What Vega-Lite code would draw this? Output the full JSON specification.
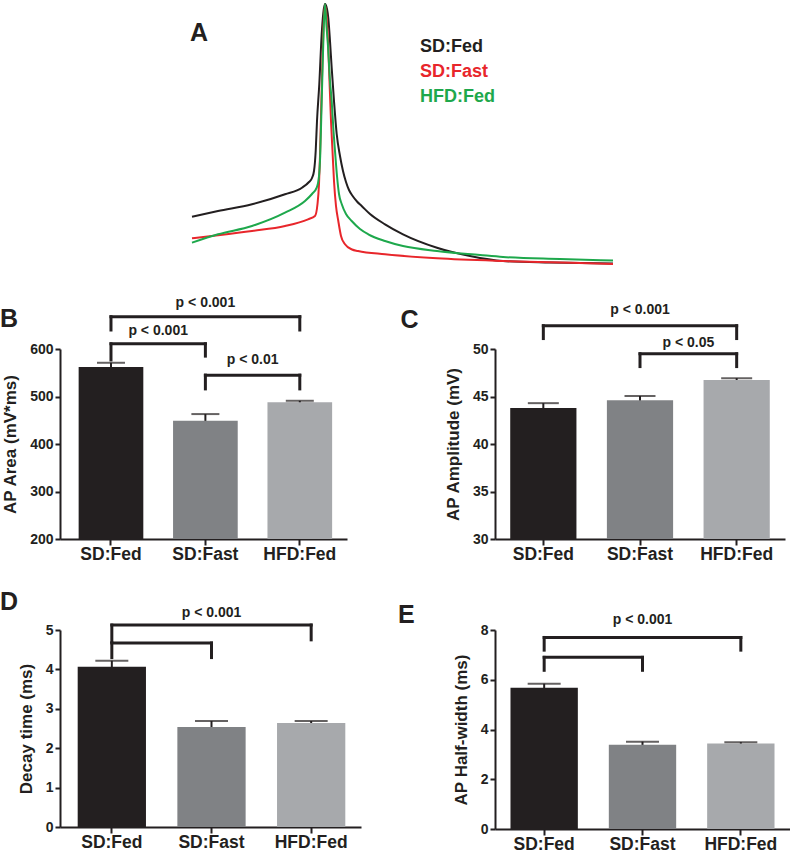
{
  "$schema": "https://vega.github.io/schema/vega-lite/v6.json",
  "padding": {"left": 0, "top": 2, "right": 0, "bottom": 0},
  "background": "white",
  "config": {
    "view": {"stroke": null},
    "font": "Liberation Sans",
    "axis": {"domainColor": "#231f20", "domainWidth": 2, "tickColor": "#231f20", "tickWidth": 2, "tickSize": 5, "labelFont": "Liberation Sans", "labelFontWeight": "bold", "labelColor": "#231f20", "titleFont": "Liberation Sans", "titleColor": "#231f20", "titleFontWeight": "bold", "titleFontSize": 17, "grid": false},
    "axisX": {"labelFontSize": 17.5, "labelAngle": 0, "labelPadding": 0, "tickSize": 6},
    "axisY": {"labelFontSize": 14, "labelPadding": 2, "titlePadding": 10}
  },
  "datasets": {
    "traces": [
      {"condition": "SD:Fed", "t": 0, "v": 49.3}, {"condition": "SD:Fed", "t": 26, "v": 55}, {"condition": "SD:Fed", "t": 60, "v": 61.7}, {"condition": "SD:Fed", "t": 93, "v": 71.7}, {"condition": "SD:Fed", "t": 110, "v": 78.3}, {"condition": "SD:Fed", "t": 117, "v": 84}, {"condition": "SD:Fed", "t": 120, "v": 88}, {"condition": "SD:Fed", "t": 122, "v": 95}, {"condition": "SD:Fed", "t": 123.7, "v": 115}, {"condition": "SD:Fed", "t": 125, "v": 145}, {"condition": "SD:Fed", "t": 127.3, "v": 182}, {"condition": "SD:Fed", "t": 129.7, "v": 232}, {"condition": "SD:Fed", "t": 131.3, "v": 253}, {"condition": "SD:Fed", "t": 133, "v": 262}, {"condition": "SD:Fed", "t": 135, "v": 257}, {"condition": "SD:Fed", "t": 136.3, "v": 248}, {"condition": "SD:Fed", "t": 138, "v": 225}, {"condition": "SD:Fed", "t": 139.7, "v": 198}, {"condition": "SD:Fed", "t": 142, "v": 165}, {"condition": "SD:Fed", "t": 144.7, "v": 132}, {"condition": "SD:Fed", "t": 148, "v": 110}, {"condition": "SD:Fed", "t": 151, "v": 95}, {"condition": "SD:Fed", "t": 154, "v": 84}, {"condition": "SD:Fed", "t": 157, "v": 76}, {"condition": "SD:Fed", "t": 161, "v": 69.5}, {"condition": "SD:Fed", "t": 165, "v": 64.5}, {"condition": "SD:Fed", "t": 169.7, "v": 60}, {"condition": "SD:Fed", "t": 178, "v": 52}, {"condition": "SD:Fed", "t": 193, "v": 41.7}, {"condition": "SD:Fed", "t": 211, "v": 31.7}, {"condition": "SD:Fed", "t": 245, "v": 18.3}, {"condition": "SD:Fed", "t": 278, "v": 10}, {"condition": "SD:Fed", "t": 311, "v": 5}, {"condition": "SD:Fed", "t": 358, "v": 3.5}, {"condition": "SD:Fed", "t": 421, "v": 2.5},
      {"condition": "SD:Fast", "t": 0, "v": 27.7}, {"condition": "SD:Fast", "t": 26, "v": 30.7}, {"condition": "SD:Fast", "t": 60, "v": 35}, {"condition": "SD:Fast", "t": 93, "v": 40}, {"condition": "SD:Fast", "t": 116, "v": 46.7}, {"condition": "SD:Fast", "t": 123, "v": 50}, {"condition": "SD:Fast", "t": 125.5, "v": 62}, {"condition": "SD:Fast", "t": 127, "v": 82}, {"condition": "SD:Fast", "t": 128, "v": 110}, {"condition": "SD:Fast", "t": 129, "v": 150}, {"condition": "SD:Fast", "t": 130.3, "v": 200}, {"condition": "SD:Fast", "t": 131.5, "v": 240}, {"condition": "SD:Fast", "t": 133, "v": 261}, {"condition": "SD:Fast", "t": 134.5, "v": 250}, {"condition": "SD:Fast", "t": 136, "v": 225}, {"condition": "SD:Fast", "t": 137.5, "v": 185}, {"condition": "SD:Fast", "t": 139, "v": 145}, {"condition": "SD:Fast", "t": 140.5, "v": 115}, {"condition": "SD:Fast", "t": 142, "v": 85}, {"condition": "SD:Fast", "t": 144, "v": 60}, {"condition": "SD:Fast", "t": 146.3, "v": 45}, {"condition": "SD:Fast", "t": 149, "v": 30}, {"condition": "SD:Fast", "t": 153, "v": 21.7}, {"condition": "SD:Fast", "t": 160, "v": 16.5}, {"condition": "SD:Fast", "t": 166, "v": 15}, {"condition": "SD:Fast", "t": 193, "v": 11.7}, {"condition": "SD:Fast", "t": 245, "v": 7.7}, {"condition": "SD:Fast", "t": 311, "v": 5}, {"condition": "SD:Fast", "t": 368, "v": 3.5}, {"condition": "SD:Fast", "t": 421, "v": 2},
      {"condition": "HFD:Fed", "t": 0, "v": 23.3}, {"condition": "HFD:Fed", "t": 26, "v": 31.7}, {"condition": "HFD:Fed", "t": 60, "v": 40}, {"condition": "HFD:Fed", "t": 93, "v": 53.3}, {"condition": "HFD:Fed", "t": 113, "v": 65}, {"condition": "HFD:Fed", "t": 120, "v": 72}, {"condition": "HFD:Fed", "t": 124.7, "v": 78.3}, {"condition": "HFD:Fed", "t": 127, "v": 90}, {"condition": "HFD:Fed", "t": 128.2, "v": 110}, {"condition": "HFD:Fed", "t": 129.3, "v": 150}, {"condition": "HFD:Fed", "t": 130.5, "v": 195}, {"condition": "HFD:Fed", "t": 131.7, "v": 237}, {"condition": "HFD:Fed", "t": 133, "v": 262}, {"condition": "HFD:Fed", "t": 134.5, "v": 240}, {"condition": "HFD:Fed", "t": 136, "v": 220}, {"condition": "HFD:Fed", "t": 138, "v": 185}, {"condition": "HFD:Fed", "t": 139.7, "v": 165}, {"condition": "HFD:Fed", "t": 141.5, "v": 135}, {"condition": "HFD:Fed", "t": 143, "v": 115}, {"condition": "HFD:Fed", "t": 145, "v": 90}, {"condition": "HFD:Fed", "t": 147, "v": 72}, {"condition": "HFD:Fed", "t": 149.7, "v": 62}, {"condition": "HFD:Fed", "t": 154, "v": 52}, {"condition": "HFD:Fed", "t": 159.7, "v": 45}, {"condition": "HFD:Fed", "t": 168, "v": 37}, {"condition": "HFD:Fed", "t": 176.3, "v": 31.7}, {"condition": "HFD:Fed", "t": 193, "v": 25}, {"condition": "HFD:Fed", "t": 211, "v": 20}, {"condition": "HFD:Fed", "t": 245, "v": 15}, {"condition": "HFD:Fed", "t": 288, "v": 11}, {"condition": "HFD:Fed", "t": 311, "v": 9}, {"condition": "HFD:Fed", "t": 368, "v": 7}, {"condition": "HFD:Fed", "t": 421, "v": 5.5}
    ],
    "area": [{"group": "SD:Fed", "mean": 562, "sem": 9}, {"group": "SD:Fast", "mean": 449, "sem": 14}, {"group": "HFD:Fed", "mean": 488, "sem": 3}],
    "amplitude": [{"group": "SD:Fed", "mean": 43.8, "sem": 0.5}, {"group": "SD:Fast", "mean": 44.6, "sem": 0.45}, {"group": "HFD:Fed", "mean": 46.75, "sem": 0.18}],
    "decay": [{"group": "SD:Fed", "mean": 4.07, "sem": 0.15}, {"group": "SD:Fast", "mean": 2.54, "sem": 0.15}, {"group": "HFD:Fed", "mean": 2.64, "sem": 0.05}],
    "halfwidth": [{"group": "SD:Fed", "mean": 5.68, "sem": 0.16}, {"group": "SD:Fast", "mean": 3.39, "sem": 0.12}, {"group": "HFD:Fed", "mean": 3.44, "sem": 0.05}],
    "area_sig": [
      {"from": "SD:Fed", "to": "HFD:Fed", "level": 668, "fromEnd": 640, "toEnd": 640, "label": "p < 0.001", "labelY": 697},
      {"from": "SD:Fed", "to": "SD:Fast", "level": 611, "fromEnd": 577, "toEnd": 585, "label": "p < 0.001", "labelY": 637},
      {"from": "SD:Fast", "to": "HFD:Fed", "level": 545, "fromEnd": 516, "toEnd": 516, "label": "p < 0.01", "labelY": 577}
    ],
    "amplitude_sig": [
      {"from": "SD:Fed", "to": "HFD:Fed", "level": 52.45, "fromEnd": 51.1, "toEnd": 51.1, "label": "p < 0.001", "labelY": 54.15},
      {"from": "SD:Fast", "to": "HFD:Fed", "level": 49.5, "fromEnd": 48.15, "toEnd": 48.15, "label": "p < 0.05", "labelY": 50.67}
    ],
    "decay_sig": [
      {"from": "SD:Fed", "to": "HFD:Fed", "level": 5.125, "fromEnd": 4.7, "toEnd": 4.75, "label": "p < 0.001", "labelY": 5.42},
      {"from": "SD:Fed", "to": "SD:Fast", "level": 4.67, "fromEnd": 4.3, "toEnd": 4.3, "label": null, "labelY": null}
    ],
    "halfwidth_sig": [
      {"from": "SD:Fed", "to": "HFD:Fed", "level": 7.7, "fromEnd": 7.19, "toEnd": 7.19, "label": "p < 0.001", "labelY": 8.4},
      {"from": "SD:Fed", "to": "SD:Fast", "level": 6.9, "fromEnd": 6.38, "toEnd": 6.38, "label": null, "labelY": null}
    ]
  },
  "columns": 2,
  "spacing": {"row": 91, "column": 134},
  "bounds": "flush",
  "align": "each",
  "concat": [
    {
      "width": 287, "height": 255,
      "title": {"text": "A", "anchor": "start", "frame": "group", "dx": 130, "offset": -62.7, "baseline": "alphabetic", "fontSize": 25, "fontWeight": "bold", "color": "#231f20", "font": "Liberation Sans"},
      "data": {"name": "traces"},
      "layer": [
        {"transform": [{"filter": "datum.condition === 'SD:Fed'"}], "mark": {"type": "line", "strokeWidth": 2, "strokeJoin": "round", "interpolate": "monotone"},
         "encoding": {"x": {"field": "t", "type": "quantitative", "scale": {"domain": [-132, 155], "nice": false, "zero": false}, "axis": null},
                      "y": {"field": "v", "type": "quantitative", "scale": {"domain": [8, 263], "nice": false, "zero": false}, "axis": null},
                      "stroke": {"field": "condition", "type": "nominal", "scale": {"domain": ["SD:Fed", "SD:Fast", "HFD:Fed"], "range": ["#231f20", "#e8262b", "#1ea84c"]},
                                 "legend": {"orient": "none", "legendX": 342, "legendY": 35, "title": null, "padding": 0, "symbolSize": 0, "symbolStrokeWidth": 0, "symbolOpacity": 0, "labelOffset": 0, "labelFontSize": 18, "labelFontWeight": "bold", "labelFont": "Liberation Sans", "labelBaseline": "middle", "rowPadding": 7,
                                            "encode": {"labels": {"update": {"fill": {"signal": "datum.value === 'SD:Fed' ? '#231f20' : datum.value === 'SD:Fast' ? '#e8262b' : '#1ea84c'"}}}}}}}},
        {"transform": [{"filter": "datum.condition === 'SD:Fast'"}], "mark": {"type": "line", "strokeWidth": 2, "strokeJoin": "round", "interpolate": "monotone"},
         "encoding": {"x": {"field": "t", "type": "quantitative", "scale": {"domain": [-132, 155], "nice": false, "zero": false}, "axis": null},
                      "y": {"field": "v", "type": "quantitative", "scale": {"domain": [8, 263], "nice": false, "zero": false}, "axis": null},
                      "stroke": {"field": "condition", "type": "nominal", "scale": {"domain": ["SD:Fed", "SD:Fast", "HFD:Fed"], "range": ["#231f20", "#e8262b", "#1ea84c"]}}}},
        {"transform": [{"filter": "datum.condition === 'HFD:Fed'"}], "mark": {"type": "line", "strokeWidth": 2, "strokeJoin": "round", "interpolate": "monotone"},
         "encoding": {"x": {"field": "t", "type": "quantitative", "scale": {"domain": [-132, 155], "nice": false, "zero": false}, "axis": null},
                      "y": {"field": "v", "type": "quantitative", "scale": {"domain": [8, 263], "nice": false, "zero": false}, "axis": null},
                      "stroke": {"field": "condition", "type": "nominal", "scale": {"domain": ["SD:Fed", "SD:Fast", "HFD:Fed"], "range": ["#231f20", "#e8262b", "#1ea84c"]}}}}
      ]
    },
    {
      "width": 1, "height": 1,
      "data": {"values": []},
      "mark": "point"
    },
    {
      "width": 287, "height": 190,
      "title": {"text": "B", "anchor": "start", "frame": "group", "dx": -60, "offset": -56.4, "baseline": "alphabetic", "fontSize": 25, "fontWeight": "bold", "color": "#231f20", "font": "Liberation Sans"},
      "layer": [
        {"data": {"name": "area"}, "mark": {"type": "errorbar", "ticks": {"size": 28}, "thickness": 2, "color": "#231f20"},
         "encoding": {"x": {"field": "group", "type": "nominal", "scale": {"domain": ["SD:Fed", "SD:Fast", "HFD:Fed"], "paddingInner": 0, "paddingOuter": 0.02, "align": 1}, "axis": {"title": null}},
                      "y": {"field": "mean", "type": "quantitative", "scale": {"domain": [200, 600], "nice": false, "zero": false}, "axis": {"title": "AP Area (mV*ms)", "values": [200, 300, 400, 500, 600]}},
                      "yError": {"field": "sem"}}},
        {"data": {"name": "area"}, "mark": {"type": "bar", "width": {"band": 0.685}, "clip": true},
         "encoding": {"x": {"field": "group", "type": "nominal", "scale": {"domain": ["SD:Fed", "SD:Fast", "HFD:Fed"], "paddingInner": 0, "paddingOuter": 0.02, "align": 1}, "axis": {"title": null}},
                      "y": {"field": "mean", "type": "quantitative", "scale": {"domain": [200, 600], "nice": false, "zero": false}, "axis": {"title": "AP Area (mV*ms)", "values": [200, 300, 400, 500, 600]}},
                      "fill": {"field": "group", "type": "nominal", "scale": {"domain": ["SD:Fed", "SD:Fast", "HFD:Fed"], "range": ["#231f20", "#808285", "#a7a9ac"]}, "legend": null}}},
        {"data": {"name": "area_sig"}, "mark": {"type": "rule", "strokeWidth": 3, "strokeCap": "square", "color": "#231f20"},
         "encoding": {"x": {"field": "from", "type": "nominal", "bandPosition": 0.5, "scale": {"domain": ["SD:Fed", "SD:Fast", "HFD:Fed"], "paddingInner": 0, "paddingOuter": 0.02, "align": 1}, "axis": {"title": null}},
                      "x2": {"field": "to"},
                      "y": {"field": "level", "type": "quantitative", "scale": {"domain": [200, 600], "nice": false, "zero": false}, "axis": {"title": "AP Area (mV*ms)", "values": [200, 300, 400, 500, 600]}}}},
        {"data": {"name": "area_sig"}, "mark": {"type": "rule", "strokeWidth": 3, "strokeCap": "square", "color": "#231f20"},
         "encoding": {"x": {"field": "from", "type": "nominal", "scale": {"domain": ["SD:Fed", "SD:Fast", "HFD:Fed"], "paddingInner": 0, "paddingOuter": 0.02, "align": 1}, "axis": {"title": null}},
                      "y": {"field": "level", "type": "quantitative", "scale": {"domain": [200, 600], "nice": false, "zero": false}, "axis": {"title": "AP Area (mV*ms)", "values": [200, 300, 400, 500, 600]}},
                      "y2": {"field": "fromEnd"}}},
        {"data": {"name": "area_sig"}, "mark": {"type": "rule", "strokeWidth": 3, "strokeCap": "square", "color": "#231f20"},
         "encoding": {"x": {"field": "to", "type": "nominal", "scale": {"domain": ["SD:Fed", "SD:Fast", "HFD:Fed"], "paddingInner": 0, "paddingOuter": 0.02, "align": 1}, "axis": {"title": null}},
                      "y": {"field": "level", "type": "quantitative", "scale": {"domain": [200, 600], "nice": false, "zero": false}, "axis": {"title": "AP Area (mV*ms)", "values": [200, 300, 400, 500, 600]}},
                      "y2": {"field": "toEnd"}}},
        {"data": {"name": "area_sig"}, "transform": [{"filter": "datum.label && datum.from === 'SD:Fed' && datum.to === 'HFD:Fed'"}],
         "mark": {"type": "text", "fontSize": 14, "fontWeight": "bold", "baseline": "middle", "color": "#231f20", "font": "Liberation Sans"},
         "encoding": {"x": {"field": "from", "type": "nominal", "bandPosition": 1.5, "scale": {"domain": ["SD:Fed", "SD:Fast", "HFD:Fed"], "paddingInner": 0, "paddingOuter": 0.02, "align": 1}, "axis": {"title": null}},
                      "y": {"field": "labelY", "type": "quantitative", "scale": {"domain": [200, 600], "nice": false, "zero": false}, "axis": {"title": "AP Area (mV*ms)", "values": [200, 300, 400, 500, 600]}},
                      "text": {"field": "label"}}},
        {"data": {"name": "area_sig"}, "transform": [{"filter": "datum.label && !(datum.from === 'SD:Fed' && datum.to === 'HFD:Fed')"}],
         "mark": {"type": "text", "fontSize": 14, "fontWeight": "bold", "baseline": "middle", "color": "#231f20", "font": "Liberation Sans"},
         "encoding": {"x": {"field": "from", "type": "nominal", "bandPosition": 1, "scale": {"domain": ["SD:Fed", "SD:Fast", "HFD:Fed"], "paddingInner": 0, "paddingOuter": 0.02, "align": 1}, "axis": {"title": null}},
                      "y": {"field": "labelY", "type": "quantitative", "scale": {"domain": [200, 600], "nice": false, "zero": false}, "axis": {"title": "AP Area (mV*ms)", "values": [200, 300, 400, 500, 600]}},
                      "text": {"field": "label"}}}
      ]
    },
    {
      "width": 290, "height": 190,
      "title": {"text": "C", "anchor": "start", "frame": "group", "dx": -94.5, "offset": -50.4, "baseline": "alphabetic", "fontSize": 25, "fontWeight": "bold", "color": "#231f20", "font": "Liberation Sans"},
      "layer": [
        {"data": {"name": "amplitude"}, "mark": {"type": "errorbar", "ticks": {"size": 31}, "thickness": 2, "color": "#231f20"},
         "encoding": {"x": {"field": "group", "type": "nominal", "scale": {"domain": ["SD:Fed", "SD:Fast", "HFD:Fed"], "paddingInner": 0, "paddingOuter": 0}, "axis": {"title": null}},
                      "y": {"field": "mean", "type": "quantitative", "scale": {"domain": [30, 50], "nice": false, "zero": false}, "axis": {"title": "AP Amplitude (mV)", "values": [30, 35, 40, 45, 50]}},
                      "yError": {"field": "sem"}}},
        {"data": {"name": "amplitude"}, "mark": {"type": "bar", "width": {"band": 0.685}, "clip": true},
         "encoding": {"x": {"field": "group", "type": "nominal", "scale": {"domain": ["SD:Fed", "SD:Fast", "HFD:Fed"], "paddingInner": 0, "paddingOuter": 0}, "axis": {"title": null}},
                      "y": {"field": "mean", "type": "quantitative", "scale": {"domain": [30, 50], "nice": false, "zero": false}, "axis": {"title": "AP Amplitude (mV)", "values": [30, 35, 40, 45, 50]}},
                      "fill": {"field": "group", "type": "nominal", "scale": {"domain": ["SD:Fed", "SD:Fast", "HFD:Fed"], "range": ["#231f20", "#808285", "#a7a9ac"]}, "legend": null}}},
        {"data": {"name": "amplitude_sig"}, "mark": {"type": "rule", "strokeWidth": 3, "strokeCap": "square", "color": "#231f20"},
         "encoding": {"x": {"field": "from", "type": "nominal", "bandPosition": 0.5, "scale": {"domain": ["SD:Fed", "SD:Fast", "HFD:Fed"], "paddingInner": 0, "paddingOuter": 0}, "axis": {"title": null}},
                      "x2": {"field": "to"},
                      "y": {"field": "level", "type": "quantitative", "scale": {"domain": [30, 50], "nice": false, "zero": false}, "axis": {"title": "AP Amplitude (mV)", "values": [30, 35, 40, 45, 50]}}}},
        {"data": {"name": "amplitude_sig"}, "mark": {"type": "rule", "strokeWidth": 3, "strokeCap": "square", "color": "#231f20"},
         "encoding": {"x": {"field": "from", "type": "nominal", "scale": {"domain": ["SD:Fed", "SD:Fast", "HFD:Fed"], "paddingInner": 0, "paddingOuter": 0}, "axis": {"title": null}},
                      "y": {"field": "level", "type": "quantitative", "scale": {"domain": [30, 50], "nice": false, "zero": false}, "axis": {"title": "AP Amplitude (mV)", "values": [30, 35, 40, 45, 50]}},
                      "y2": {"field": "fromEnd"}}},
        {"data": {"name": "amplitude_sig"}, "mark": {"type": "rule", "strokeWidth": 3, "strokeCap": "square", "color": "#231f20"},
         "encoding": {"x": {"field": "to", "type": "nominal", "scale": {"domain": ["SD:Fed", "SD:Fast", "HFD:Fed"], "paddingInner": 0, "paddingOuter": 0}, "axis": {"title": null}},
                      "y": {"field": "level", "type": "quantitative", "scale": {"domain": [30, 50], "nice": false, "zero": false}, "axis": {"title": "AP Amplitude (mV)", "values": [30, 35, 40, 45, 50]}},
                      "y2": {"field": "toEnd"}}},
        {"data": {"name": "amplitude_sig"}, "transform": [{"filter": "datum.label && datum.from === 'SD:Fed' && datum.to === 'HFD:Fed'"}],
         "mark": {"type": "text", "fontSize": 14, "fontWeight": "bold", "baseline": "middle", "color": "#231f20", "font": "Liberation Sans"},
         "encoding": {"x": {"field": "from", "type": "nominal", "bandPosition": 1.5, "scale": {"domain": ["SD:Fed", "SD:Fast", "HFD:Fed"], "paddingInner": 0, "paddingOuter": 0}, "axis": {"title": null}},
                      "y": {"field": "labelY", "type": "quantitative", "scale": {"domain": [30, 50], "nice": false, "zero": false}, "axis": {"title": "AP Amplitude (mV)", "values": [30, 35, 40, 45, 50]}},
                      "text": {"field": "label"}}},
        {"data": {"name": "amplitude_sig"}, "transform": [{"filter": "datum.label && !(datum.from === 'SD:Fed' && datum.to === 'HFD:Fed')"}],
         "mark": {"type": "text", "fontSize": 14, "fontWeight": "bold", "baseline": "middle", "color": "#231f20", "font": "Liberation Sans"},
         "encoding": {"x": {"field": "from", "type": "nominal", "bandPosition": 1, "scale": {"domain": ["SD:Fed", "SD:Fast", "HFD:Fed"], "paddingInner": 0, "paddingOuter": 0}, "axis": {"title": null}},
                      "y": {"field": "labelY", "type": "quantitative", "scale": {"domain": [30, 50], "nice": false, "zero": false}, "axis": {"title": "AP Amplitude (mV)", "values": [30, 35, 40, 45, 50]}},
                      "text": {"field": "label"}}}
      ]
    },
    {
      "width": 301, "height": 197,
      "title": {"text": "D", "anchor": "start", "frame": "group", "dx": -60, "offset": -28.2, "baseline": "alphabetic", "fontSize": 25, "fontWeight": "bold", "color": "#231f20", "font": "Liberation Sans"},
      "layer": [
        {"data": {"name": "decay"}, "mark": {"type": "errorbar", "ticks": {"size": 33}, "thickness": 2, "color": "#231f20"},
         "encoding": {"x": {"field": "group", "type": "nominal", "scale": {"domain": ["SD:Fed", "SD:Fast", "HFD:Fed"], "paddingInner": 0, "paddingOuter": 0.01, "align": 1}, "axis": {"title": null}},
                      "y": {"field": "mean", "type": "quantitative", "scale": {"domain": [0, 5], "nice": false}, "axis": {"title": "Decay time (ms)", "values": [0, 1, 2, 3, 4, 5]}},
                      "yError": {"field": "sem"}}},
        {"data": {"name": "decay"}, "mark": {"type": "bar", "width": {"band": 0.685}, "clip": true},
         "encoding": {"x": {"field": "group", "type": "nominal", "scale": {"domain": ["SD:Fed", "SD:Fast", "HFD:Fed"], "paddingInner": 0, "paddingOuter": 0.01, "align": 1}, "axis": {"title": null}},
                      "y": {"field": "mean", "type": "quantitative", "scale": {"domain": [0, 5], "nice": false}, "axis": {"title": "Decay time (ms)", "values": [0, 1, 2, 3, 4, 5]}},
                      "fill": {"field": "group", "type": "nominal", "scale": {"domain": ["SD:Fed", "SD:Fast", "HFD:Fed"], "range": ["#231f20", "#808285", "#a7a9ac"]}, "legend": null}}},
        {"data": {"name": "decay_sig"}, "mark": {"type": "rule", "strokeWidth": 3, "strokeCap": "square", "color": "#231f20"},
         "encoding": {"x": {"field": "from", "type": "nominal", "bandPosition": 0.5, "scale": {"domain": ["SD:Fed", "SD:Fast", "HFD:Fed"], "paddingInner": 0, "paddingOuter": 0.01, "align": 1}, "axis": {"title": null}},
                      "x2": {"field": "to"},
                      "y": {"field": "level", "type": "quantitative", "scale": {"domain": [0, 5], "nice": false}, "axis": {"title": "Decay time (ms)", "values": [0, 1, 2, 3, 4, 5]}}}},
        {"data": {"name": "decay_sig"}, "mark": {"type": "rule", "strokeWidth": 3, "strokeCap": "square", "color": "#231f20"},
         "encoding": {"x": {"field": "from", "type": "nominal", "scale": {"domain": ["SD:Fed", "SD:Fast", "HFD:Fed"], "paddingInner": 0, "paddingOuter": 0.01, "align": 1}, "axis": {"title": null}},
                      "y": {"field": "level", "type": "quantitative", "scale": {"domain": [0, 5], "nice": false}, "axis": {"title": "Decay time (ms)", "values": [0, 1, 2, 3, 4, 5]}},
                      "y2": {"field": "fromEnd"}}},
        {"data": {"name": "decay_sig"}, "mark": {"type": "rule", "strokeWidth": 3, "strokeCap": "square", "color": "#231f20"},
         "encoding": {"x": {"field": "to", "type": "nominal", "scale": {"domain": ["SD:Fed", "SD:Fast", "HFD:Fed"], "paddingInner": 0, "paddingOuter": 0.01, "align": 1}, "axis": {"title": null}},
                      "y": {"field": "level", "type": "quantitative", "scale": {"domain": [0, 5], "nice": false}, "axis": {"title": "Decay time (ms)", "values": [0, 1, 2, 3, 4, 5]}},
                      "y2": {"field": "toEnd"}}},
        {"data": {"name": "decay_sig"}, "transform": [{"filter": "datum.label && datum.from === 'SD:Fed' && datum.to === 'HFD:Fed'"}],
         "mark": {"type": "text", "fontSize": 14, "fontWeight": "bold", "baseline": "middle", "color": "#231f20", "font": "Liberation Sans"},
         "encoding": {"x": {"field": "from", "type": "nominal", "bandPosition": 1.5, "scale": {"domain": ["SD:Fed", "SD:Fast", "HFD:Fed"], "paddingInner": 0, "paddingOuter": 0.01, "align": 1}, "axis": {"title": null}},
                      "y": {"field": "labelY", "type": "quantitative", "scale": {"domain": [0, 5], "nice": false}, "axis": {"title": "Decay time (ms)", "values": [0, 1, 2, 3, 4, 5]}},
                      "text": {"field": "label"}}}
      ]
    },
    {
      "width": 295, "height": 199,
      "title": {"text": "E", "anchor": "start", "frame": "group", "dx": -97, "offset": -34.7, "baseline": "alphabetic", "fontSize": 25, "fontWeight": "bold", "color": "#231f20", "font": "Liberation Sans"},
      "layer": [
        {"data": {"name": "halfwidth"}, "mark": {"type": "errorbar", "ticks": {"size": 33}, "thickness": 2, "color": "#231f20"},
         "encoding": {"x": {"field": "group", "type": "nominal", "scale": {"domain": ["SD:Fed", "SD:Fast", "HFD:Fed"], "paddingInner": 0, "paddingOuter": 0}, "axis": {"title": null}},
                      "y": {"field": "mean", "type": "quantitative", "scale": {"domain": [0, 8], "nice": false}, "axis": {"title": "AP Half-width (ms)", "values": [0, 2, 4, 6, 8]}},
                      "yError": {"field": "sem"}}},
        {"data": {"name": "halfwidth"}, "mark": {"type": "bar", "width": {"band": 0.685}, "clip": true},
         "encoding": {"x": {"field": "group", "type": "nominal", "scale": {"domain": ["SD:Fed", "SD:Fast", "HFD:Fed"], "paddingInner": 0, "paddingOuter": 0}, "axis": {"title": null}},
                      "y": {"field": "mean", "type": "quantitative", "scale": {"domain": [0, 8], "nice": false}, "axis": {"title": "AP Half-width (ms)", "values": [0, 2, 4, 6, 8]}},
                      "fill": {"field": "group", "type": "nominal", "scale": {"domain": ["SD:Fed", "SD:Fast", "HFD:Fed"], "range": ["#231f20", "#808285", "#a7a9ac"]}, "legend": null}}},
        {"data": {"name": "halfwidth_sig"}, "mark": {"type": "rule", "strokeWidth": 3, "strokeCap": "square", "color": "#231f20"},
         "encoding": {"x": {"field": "from", "type": "nominal", "bandPosition": 0.5, "scale": {"domain": ["SD:Fed", "SD:Fast", "HFD:Fed"], "paddingInner": 0, "paddingOuter": 0}, "axis": {"title": null}},
                      "x2": {"field": "to"},
                      "y": {"field": "level", "type": "quantitative", "scale": {"domain": [0, 8], "nice": false}, "axis": {"title": "AP Half-width (ms)", "values": [0, 2, 4, 6, 8]}}}},
        {"data": {"name": "halfwidth_sig"}, "mark": {"type": "rule", "strokeWidth": 3, "strokeCap": "square", "color": "#231f20"},
         "encoding": {"x": {"field": "from", "type": "nominal", "scale": {"domain": ["SD:Fed", "SD:Fast", "HFD:Fed"], "paddingInner": 0, "paddingOuter": 0}, "axis": {"title": null}},
                      "y": {"field": "level", "type": "quantitative", "scale": {"domain": [0, 8], "nice": false}, "axis": {"title": "AP Half-width (ms)", "values": [0, 2, 4, 6, 8]}},
                      "y2": {"field": "fromEnd"}}},
        {"data": {"name": "halfwidth_sig"}, "mark": {"type": "rule", "strokeWidth": 3, "strokeCap": "square", "color": "#231f20"},
         "encoding": {"x": {"field": "to", "type": "nominal", "scale": {"domain": ["SD:Fed", "SD:Fast", "HFD:Fed"], "paddingInner": 0, "paddingOuter": 0}, "axis": {"title": null}},
                      "y": {"field": "level", "type": "quantitative", "scale": {"domain": [0, 8], "nice": false}, "axis": {"title": "AP Half-width (ms)", "values": [0, 2, 4, 6, 8]}},
                      "y2": {"field": "toEnd"}}},
        {"data": {"name": "halfwidth_sig"}, "transform": [{"filter": "datum.label && datum.from === 'SD:Fed' && datum.to === 'HFD:Fed'"}],
         "mark": {"type": "text", "fontSize": 14, "fontWeight": "bold", "baseline": "middle", "color": "#231f20", "font": "Liberation Sans"},
         "encoding": {"x": {"field": "from", "type": "nominal", "bandPosition": 1.5, "scale": {"domain": ["SD:Fed", "SD:Fast", "HFD:Fed"], "paddingInner": 0, "paddingOuter": 0}, "axis": {"title": null}},
                      "y": {"field": "labelY", "type": "quantitative", "scale": {"domain": [0, 8], "nice": false}, "axis": {"title": "AP Half-width (ms)", "values": [0, 2, 4, 6, 8]}},
                      "text": {"field": "label"}}}
      ]
    }
  ]
}
